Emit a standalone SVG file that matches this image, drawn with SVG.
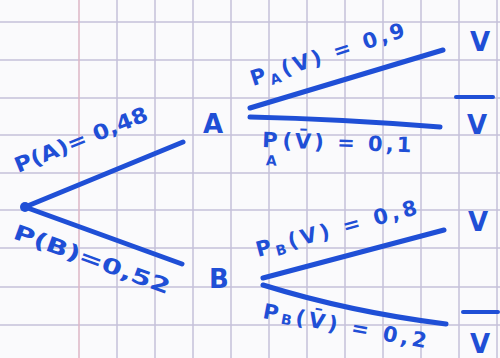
<svg xmlns="http://www.w3.org/2000/svg" width="500" height="358" viewBox="0 0 500 358">
<style>
.grid{stroke:#c4c1da;stroke-width:1.5}
.margin{stroke:#dcb6c6;stroke-width:1.5}
.br{stroke:#1f4fd6;stroke-width:5;stroke-linecap:round;fill:none}
.bar{stroke:#1f4fd6;stroke-width:4;stroke-linecap:round}
.t{font-family:"DejaVu Sans",sans-serif;font-weight:bold;fill:#1f4fd6}
.lab{font-size:21px}
.node{font-size:26px;text-anchor:middle}
.sub{font-size:14px}
</style>
<rect width="500" height="358" fill="#fafafc"/>
<g id="grid">
<line class="grid" x1="0" y1="22" x2="500" y2="22"/>
<line class="grid" x1="0" y1="60" x2="500" y2="60"/>
<line class="grid" x1="0" y1="98" x2="500" y2="98"/>
<line class="grid" x1="0" y1="135" x2="500" y2="135"/>
<line class="grid" x1="0" y1="173" x2="500" y2="173"/>
<line class="grid" x1="0" y1="210" x2="500" y2="210"/>
<line class="grid" x1="0" y1="248" x2="500" y2="248"/>
<line class="grid" x1="0" y1="287" x2="500" y2="287"/>
<line class="grid" x1="0" y1="325" x2="500" y2="325"/>
<line class="margin" x1="79" y1="0" x2="79" y2="358"/>
<line class="grid" x1="117" y1="0" x2="117" y2="358"/>
<line class="grid" x1="155" y1="0" x2="155" y2="358"/>
<line class="grid" x1="193" y1="0" x2="193" y2="358"/>
<line class="grid" x1="231" y1="0" x2="231" y2="358"/>
<line class="grid" x1="269" y1="0" x2="269" y2="358"/>
<line class="grid" x1="307" y1="0" x2="307" y2="358"/>
<line class="grid" x1="345" y1="0" x2="345" y2="358"/>
<line class="grid" x1="383" y1="0" x2="383" y2="358"/>
<line class="grid" x1="421" y1="0" x2="421" y2="358"/>
<line class="grid" x1="459" y1="0" x2="459" y2="358"/>
<line class="grid" x1="497" y1="0" x2="497" y2="358"/>
</g>
<g id="connectors">
<circle cx="25" cy="207" r="5" fill="#1f4fd6"/>
<line class="br" x1="25" y1="207" x2="183" y2="142"/>
<line class="br" x1="25" y1="207" x2="182" y2="264"/>
<line class="br" x1="250" y1="108" x2="443" y2="50"/>
<path class="br" d="M250 117 Q340 119 440 127"/>
<line class="br" x1="263" y1="278" x2="444" y2="230"/>
<path class="br" d="M263 285 Q350 312 446 324"/>
<text class="t lab" transform="translate(18,173) rotate(-22)" textLength="142" lengthAdjust="spacingAndGlyphs">P(A)= 0,48</text>
<text class="t lab" transform="translate(12,238) rotate(20)" textLength="165" lengthAdjust="spacingAndGlyphs">P(B)=0,52</text>
<text class="t lab" transform="translate(253,86) rotate(-18)" letter-spacing="3">P<tspan class="sub" dy="5">A</tspan><tspan dy="-5">(V) = 0,9</tspan></text>
<text class="t lab" transform="translate(262,147) rotate(2)" letter-spacing="3">P<tspan class="sub" dx="-14" dy="18">A</tspan><tspan dx="2" dy="-18">(V̄) = 0,1</tspan></text>
<text class="t lab" transform="translate(258,257) rotate(-15)" letter-spacing="3.5">P<tspan class="sub" dy="4">B</tspan><tspan dy="-4">(V) = 0,8</tspan></text>
<text class="t lab" transform="translate(262,318) rotate(10.5)" letter-spacing="3.5">P<tspan class="sub" dy="2">B</tspan><tspan dy="-2">(V̄) = 0,2</tspan></text>
</g>
<g id="A"><text class="t node" x="213" y="133">A</text></g>
<g id="B"><text class="t node" x="219" y="288">B</text></g>
<g id="V1"><text class="t node" x="480" y="51">V</text></g>
<g id="Vbar1"><line class="bar" x1="456" y1="97" x2="493" y2="97"/><text class="t node" x="477" y="134">V</text></g>
<g id="V2"><text class="t node" x="478" y="231">V</text></g>
<g id="Vbar2"><line class="bar" x1="463" y1="312" x2="498" y2="312"/><text class="t node" x="480" y="353">V</text></g>
</svg>
